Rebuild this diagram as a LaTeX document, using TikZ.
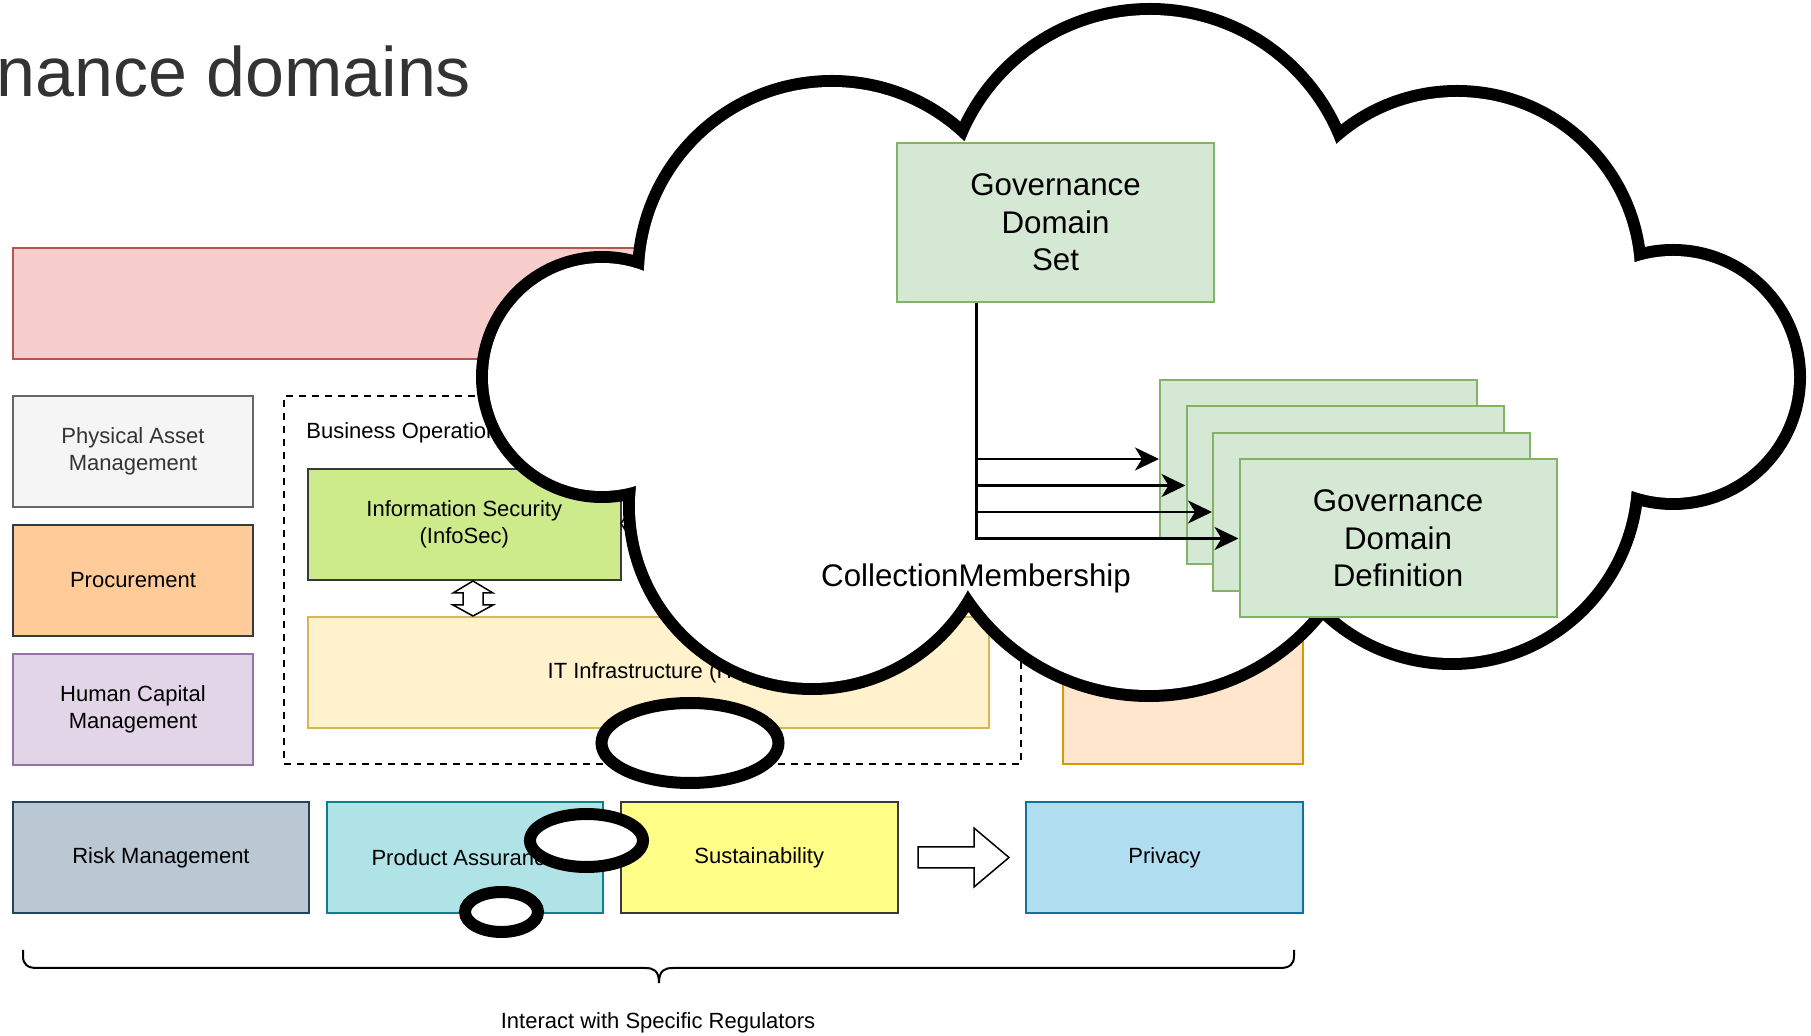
\documentclass[tikz,border=0pt]{standalone}
\usepackage{fontspec}
\setmainfont{Liberation Sans}
\usetikzlibrary{arrows.meta}

\definecolor{titlegray}{HTML}{333333}
\definecolor{redfill}{HTML}{F8CECC}
\definecolor{redline}{HTML}{B85450}
\definecolor{grayfill}{HTML}{F5F5F5}
\definecolor{grayline}{HTML}{666666}
\definecolor{orangefill}{HTML}{FFCC99}
\definecolor{darkline}{HTML}{36393D}
\definecolor{purplefill}{HTML}{E1D5E7}
\definecolor{purpleline}{HTML}{9673A6}
\definecolor{limefill}{HTML}{CDEB8B}
\definecolor{yellowfill}{HTML}{FFF2CC}
\definecolor{yellowline}{HTML}{D6B656}
\definecolor{peachfill}{HTML}{FFE6CC}
\definecolor{peachline}{HTML}{D79B00}
\definecolor{steelfill}{HTML}{BAC8D3}
\definecolor{steelline}{HTML}{23445D}
\definecolor{tealfill}{HTML}{B0E3E6}
\definecolor{tealline}{HTML}{0E8088}
\definecolor{lemonfill}{HTML}{FFFF88}
\definecolor{bluefill}{HTML}{B1DDF0}
\definecolor{blueline}{HTML}{10739E}
\definecolor{greenfill}{HTML}{D5E8D4}
\definecolor{greenline}{HTML}{82B366}

\tikzset{
  dbox/.style={draw, line width=1pt, inner sep=0pt, align=center, font=\fontsize{11}{13.5}\selectfont},
  colbox/.style={dbox, minimum width=120pt, minimum height=55.5pt},
  rowbox/.style={dbox, minimum height=55.5pt},
  govbox/.style={dbox, fill=greenfill, draw=greenline, minimum width=158.5pt, minimum height=79pt, font=\fontsize{15.65}{18.75}\selectfont},
  conn/.style={line width=1.25pt, -{Stealth[length=12pt,width=11.5pt,inset=3.5pt]}},
  blockarrow/.style={draw, fill=white, line width=0.75pt, line join=miter},
  cloudline/.style={line width=12pt},
  bubble/.style={draw, fill=white, line width=6pt},
}

\begin{document}
\begin{tikzpicture}[x=0.5pt,y=0.5pt,yscale=-1,xscale=1]
	\useasboundingbox (0,0) rectangle (1811,1036);
	
	%Title
	\node (title) [anchor=base west, inner sep=0pt, text=titlegray, font=\fontsize{35}{42}\selectfont] at (-4,97) {nance domains};
	
	%Rectangles: left column
	\node (topbar) [dbox, fill=redfill, draw=redline, minimum width=645pt, minimum height=55.5pt] at (658,303.5) {};
	\node (physical) [colbox, fill=grayfill, draw=grayline, text=titlegray] at (133,451.5) {Physical Asset\\Management};
	\node (procure) [colbox, fill=orangefill, draw=darkline] at (133,580.5) {Procurement};
	\node (human) [colbox, fill=purplefill, draw=purpleline] at (133,709.5) {Human Capital\\Management};
	
	%Business operations group
	\node (bizops) [draw, dash pattern=on 3.5pt off 3pt, line width=0.75pt, minimum width=368.5pt, minimum height=184pt] at (652.5,580) {};
	\node (bizlabel) [anchor=west, inner sep=0pt, font=\fontsize{11}{13.5}\selectfont] at (306,433) {Business Operations};
	\node (infosec) [dbox, fill=limefill, draw=darkline, minimum width=156.25pt, minimum height=55.5pt] at (464.25,524.5) {Information Security\\(InfoSec)};
	\node (infra) [dbox, fill=yellowfill, draw=yellowline, minimum width=340.5pt, minimum height=55.5pt] at (648.5,672.5) {IT Infrastructure (ITI)};
	\node (peach) [dbox, fill=peachfill, draw=peachline, minimum width=120pt, minimum height=184pt] at (1183,580) {};
	
	%Block arrows
	\draw [blockarrow] (473,581) -- (493,593) -- (483,593) -- (483,605) -- (493,605) -- (473,616) -- (453,605) -- (463,605) -- (463,593) -- (453,593) -- cycle;
	\draw [blockarrow] (621,523.5) -- (632,507) -- (632,516) -- (690,516) -- (690,531) -- (632,531) -- (632,540) -- cycle;
	
	%Rectangles: bottom row
	\node (risk) [rowbox, fill=steelfill, draw=steelline, minimum width=148pt] at (161,857.5) {Risk Management};
	\node (product) [rowbox, fill=tealfill, draw=tealline, minimum width=138pt] at (464.5,857.5) {Product Assurance};
	\node (sustain) [rowbox, fill=lemonfill, draw=darkline, minimum width=138.75pt] at (759.25,857.5) {Sustainability};
	\node (privacy) [rowbox, fill=bluefill, draw=blueline, minimum width=138.5pt] at (1164.5,857.5) {Privacy};
	\draw [blockarrow] (918,847) -- (974,847) -- (974,828) -- (1009,857.5) -- (974,887) -- (974,868) -- (918,868) -- cycle;
	
	%Curly bracket
	\draw [line width=1pt] (23,950) -- (23,956) .. controls (23,964) and (27,968) .. (37,968) -- (645,968) .. controls (653,968) and (659,970) .. (659,983) .. controls (659,970) and (665,968) .. (673,968) -- (1280,968) .. controls (1290,968) and (1294,964) .. (1294,956) -- (1294,950);
	\node (regulators) [inner sep=0pt, font=\fontsize{11}{13.5}\selectfont] at (658,1022.5) {Interact with Specific Regulators};
	
	%Cloud
	\draw [cloudline] (602,377) circle [radius=114] (832,275) circle [radius=188] (1150,214) circle [radius=199] (1457,275) circle [radius=178] (1673,377) circle [radius=121] (1452,478) circle [radius=180] (1149,476) circle [radius=214] (812,506) circle [radius=177];
	\fill [white] (602,377) circle [radius=114] (832,275) circle [radius=188] (1150,214) circle [radius=199] (1457,275) circle [radius=178] (1673,377) circle [radius=121] (1452,478) circle [radius=180] (1149,476) circle [radius=214] (812,506) circle [radius=177];
	\fill [white] (645,271) -- (964,141) -- (1335,146) -- (1634,262) -- (1632,491) -- (1322,603) -- (965,589) -- (636,485) -- cycle;
	
	%Governance domains
	\node (domainset) [govbox, minimum height=79.5pt] at (1055.5,222.5) {Governance\\Domain\\Set};
	\node (def1) [govbox] at (1318.5,459) {};
	\node (def2) [govbox] at (1345,485.5) {};
	\node (def3) [govbox] at (1371.5,512) {};
	\node (def4) [govbox] at (1398,538.5) {Governance\\Domain\\Definition};
	
	\coordinate (trunk) at ([xshift=-39.5pt]domainset.south);
	\draw [conn] (trunk) |- (def1.west);
	\draw [conn] (trunk) |- (def2.west);
	\draw [conn] (trunk) |- (def3.west);
	\draw [conn] (trunk) |- (def4.west);
	\node (membership) [inner sep=0pt, font=\fontsize{15.65}{18.75}\selectfont] at (976,578) {CollectionMembership};
	
	%Thought bubbles
	\draw [bubble] (690,743) circle [x radius=88.5, y radius=40];
	\draw [bubble] (586.5,840.5) circle [x radius=56.5, y radius=26.5];
	\draw [bubble] (501.5,912) circle [x radius=36.5, y radius=20];
	
\end{tikzpicture}
\end{document}
